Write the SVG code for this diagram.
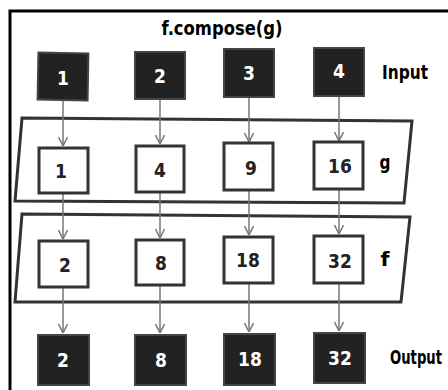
<svg xmlns="http://www.w3.org/2000/svg" width="448" height="390" viewBox="0 0 448 390">
<defs>
<style>
.t{font-family:"DejaVu Sans Condensed","Liberation Sans Narrow","Liberation Sans",sans-serif;font-weight:bold;text-anchor:middle;dominant-baseline:central}
.blk rect{fill:#222;stroke:#444;stroke-width:2}
.blk text{fill:#fff;font-size:19px}
.wht rect{fill:#fff;stroke:#333;stroke-width:3}
.wht text{fill:#222;font-size:19px}
.grp{fill:none;stroke:#333;stroke-width:3;stroke-linejoin:miter}
.lbl{fill:#000;font-size:19px}
#connectors line{stroke:#777;stroke-width:1.5;marker-end:url(#arr)}
</style>
<marker id="arr" viewBox="0 0 10 10" refX="10" refY="5" markerWidth="10" markerHeight="10" markerUnits="userSpaceOnUse" orient="auto">
<path d="M1,0.5 L10,5 L1,9.5" fill="none" stroke="#777" stroke-width="1.5"/>
</marker>
</defs>
<rect width="448" height="390" fill="#fff"/>
<rect x="10" y="11" width="450" height="390" fill="none" stroke="#000" stroke-width="3"/>
<text class="t lbl" x="222" y="28" font-size="20" textLength="121" lengthAdjust="spacingAndGlyphs">f.compose(g)</text>

<g id="group-g"><polygon class="grp" points="22,118 412,121 404,203 15,201"/><text class="t lbl" x="385" y="162" textLength="11" lengthAdjust="spacingAndGlyphs">g</text></g>
<g id="group-f"><polygon class="grp" points="22,214 410,217 401,302 15,302"/><text class="t lbl" x="385" y="259" textLength="9" lengthAdjust="spacingAndGlyphs">f</text></g>

<g id="connectors">
<line x1="63" y1="100" x2="63" y2="146"/>
<line x1="160" y1="99" x2="160" y2="144"/>
<line x1="249" y1="97" x2="249" y2="142"/>
<line x1="339" y1="96" x2="339" y2="141"/>
<line x1="63" y1="193" x2="63" y2="239"/>
<line x1="160" y1="192" x2="160" y2="238"/>
<line x1="249" y1="190" x2="249" y2="235"/>
<line x1="339" y1="189" x2="339" y2="234"/>
<line x1="63" y1="287" x2="63" y2="333"/>
<line x1="160" y1="285" x2="160" y2="333"/>
<line x1="249" y1="283" x2="249" y2="332"/>
<line x1="339" y1="283" x2="339" y2="331"/>
</g>

<g id="in1" class="blk"><rect x="38" y="53" width="50" height="47" transform="rotate(1 63 76)"/><text class="t" x="63" y="78">1</text></g>
<g id="in2" class="blk"><rect x="135" y="52" width="50" height="47"/><text class="t" x="160" y="76">2</text></g>
<g id="in3" class="blk"><rect x="224" y="49" width="50" height="48"/><text class="t" x="249" y="73">3</text></g>
<g id="in4" class="blk"><rect x="314" y="48" width="50" height="48"/><text class="t" x="339" y="71">4</text></g>
<text class="t lbl" x="405" y="72" textLength="46" lengthAdjust="spacingAndGlyphs">Input</text>

<g id="g1" class="wht"><rect x="39" y="148" width="49" height="45"/><text class="t" x="61" y="171">1</text></g>
<g id="g2" class="wht"><rect x="136" y="146" width="48" height="46"/><text class="t" x="160" y="170">4</text></g>
<g id="g3" class="wht"><rect x="224" y="143" width="49" height="47"/><text class="t" x="251" y="168">9</text></g>
<g id="g4" class="wht"><rect x="314" y="142" width="49" height="47"/><text class="t" x="340" y="166">16</text></g>

<g id="f1" class="wht"><rect x="39" y="241" width="49" height="46"/><text class="t" x="65" y="265">2</text></g>
<g id="f2" class="wht"><rect x="136" y="240" width="48" height="45"/><text class="t" x="161" y="263">8</text></g>
<g id="f3" class="wht"><rect x="224" y="237" width="49" height="46"/><text class="t" x="248" y="260">18</text></g>
<g id="f4" class="wht"><rect x="314" y="236" width="49" height="47"/><text class="t" x="340" y="261">32</text></g>

<g id="out1" class="blk"><rect x="38" y="335" width="51" height="50"/><text class="t" x="63" y="360">2</text></g>
<g id="out2" class="blk"><rect x="135" y="335" width="51" height="50"/><text class="t" x="161" y="360">8</text></g>
<g id="out3" class="blk"><rect x="224" y="334" width="51" height="51"/><text class="t" x="250" y="359">18</text></g>
<g id="out4" class="blk"><rect x="314" y="333" width="51" height="50"/><text class="t" x="340" y="358">32</text></g>
<text class="t lbl" x="416" y="357" font-size="16" textLength="52" lengthAdjust="spacingAndGlyphs">Output</text>
</svg>
